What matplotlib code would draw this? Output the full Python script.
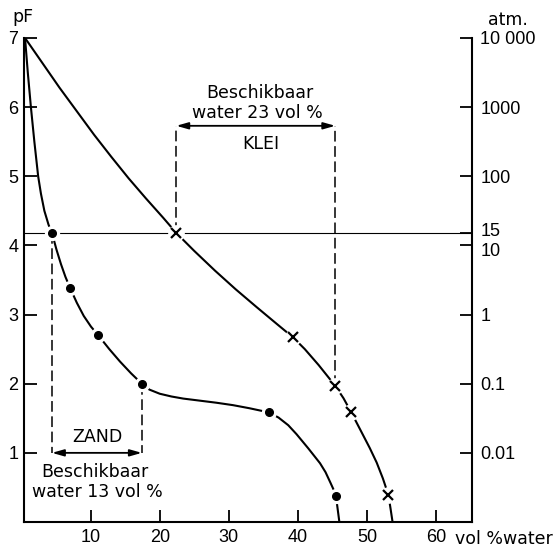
import numpy as np
import matplotlib
matplotlib.use('Agg')
import matplotlib.pyplot as plt
from matplotlib import font_manager
from matplotlib.transforms import ScaledTranslation

# pF-curves (vochtkarakteristieken) zand en klei
sand_curve_x = [0.5, 0.9, 1.35, 1.85, 2.4, 2.8, 3.3, 3.9, 4.4, 5.05, 5.7, 6.35, 7.0,
                8.0, 9.0, 10.05, 11.1, 12.7, 14.25, 15.85, 17.4, 18.5, 20.0, 21.7, 23.4,
                25.8, 28.2, 30.6, 33.0, 35.8, 37.2, 38.6, 39.8, 41.5, 43.2, 44.0, 44.7,
                45.2, 45.5, 46.0]
sand_curve_pf = [7.0, 6.5, 6.0, 5.5, 5.0, 4.75, 4.5, 4.3, 4.18, 3.94, 3.73, 3.545, 3.39,
                 3.17, 2.98, 2.825, 2.70, 2.50, 2.32, 2.15, 2.0, 1.915, 1.855, 1.815, 1.785,
                 1.755, 1.725, 1.69, 1.645, 1.585, 1.51, 1.40, 1.27, 1.065, 0.85, 0.72, 0.57,
                 0.46, 0.38, 0.0]
sand_dots_x = [4.4, 7.0, 11.1, 17.4, 35.8, 45.5]
sand_dots_pf = [4.18, 3.39, 2.70, 2.0, 1.585, 0.38]

clay_curve_x = [0.5, 3.0, 5.5, 8.0, 10.5, 13.0, 15.5, 18.0, 20.5, 22.4, 25.0, 28.0, 31.0,
                34.0, 37.0, 39.3, 41.0, 43.0, 45.4, 46.6, 47.7, 49.0, 50.4, 51.4, 52.3,
                53.1, 53.4, 53.7]
clay_curve_pf = [7.0, 6.64, 6.28, 5.94, 5.60, 5.28, 4.97, 4.68, 4.40, 4.18, 3.92, 3.635,
                 3.365, 3.11, 2.86, 2.67, 2.50, 2.27, 1.97, 1.79, 1.59, 1.34, 1.07, 0.86,
                 0.63, 0.39, 0.20, 0.0]
clay_marks_x = [22.4, 39.3, 45.4, 47.7, 53.1]
clay_marks_pf = [4.18, 2.67, 1.97, 1.59, 0.39]

# verwelkingspunt (pF 4.2) en veldcapaciteit
sand_wp, sand_fc = 4.4, 17.4      # 13 vol %
clay_wp, clay_fc = 22.4, 45.4     # 23 vol %
wilting_pf = 3 + np.log10(15)

x_ticks = [10, 20, 30, 40, 50, 60]
pf_ticks = [1, 2, 3, 4, 5, 6, 7]
atm_ticks = [10000, 1000, 100, 15, 10, 1, 0.1, 0.01]
atm_labels = ['10 000', '1000', '100', '15', '10', '1', '0.1', '0.01']

installed = {f.name for f in font_manager.fontManager.ttflist}
num_font = [f for f in ['Liberation Sans Narrow', 'Liberation Sans', 'DejaVu Sans'] if f in installed][:1]
txt_font = ['DejaVu Sans']

fig = plt.figure(figsize=(5.6, 5.49), dpi=100)
ax = fig.add_axes([24 / 560, 1 - 522 / 549, (472 - 24) / 560, (522 - 38) / 549])
ax.set_xlim(0.35, 65.2)
ax.set_ylim(0, 7)

lw = 1.5
ax.plot(sand_curve_x, sand_curve_pf, color='k', lw=lw, zorder=2)
ax.plot(clay_curve_x, clay_curve_pf, color='k', lw=lw, zorder=2)
ax.axhline(wilting_pf, color='k', lw=0.8, zorder=1)

# stippellijnen beschikbaar water
dash = (0, (7, 3))
ax.plot([sand_wp, sand_wp], [wilting_pf, 1.0], color='k', lw=1.1, ls=dash, zorder=1)
ax.plot([sand_fc, sand_fc], [2.0, 1.0], color='k', lw=1.1, ls=dash, zorder=1)
ax.plot([clay_wp, clay_wp], [wilting_pf, 5.73], color='k', lw=1.1, ls=dash, zorder=1)
ax.plot([clay_fc, clay_fc], [1.97, 5.73], color='k', lw=1.1, ls=dash, zorder=1)

arrow = dict(arrowstyle='<|-|>,head_length=0.7,head_width=0.2', color='k', lw=1.3,
             shrinkA=0, shrinkB=0, mutation_scale=10)
ax.annotate('', xy=(sand_wp, 1.0), xytext=(sand_fc, 1.0), arrowprops=arrow)
ax.annotate('', xy=(clay_wp, 5.73), xytext=(clay_fc, 5.73), arrowprops=arrow)

# witte rand rond de meetpunten
ax.plot(sand_dots_x, sand_dots_pf, 'o', color='white', ms=10, zorder=3)
ax.plot(clay_marks_x, clay_marks_pf, 'o', color='white', ms=11, zorder=3)
ax.plot(sand_dots_x, sand_dots_pf, 'o', color='k', ms=5.5, zorder=4)
ax.plot(clay_marks_x, clay_marks_pf, 'x', color='k', ms=7, mew=1.6, zorder=4)

fs = 12.5
ax.text(10.9, 1.23, 'ZAND', ha='center', va='center', fontsize=fs, family=txt_font)
ax.text(10.6, 0.73, 'Beschikbaar', ha='center', va='center', fontsize=fs, family=txt_font)
ax.text(10.9, 0.44, 'water 13 vol %', ha='center', va='center', fontsize=fs, family=txt_font)
ax.text(34.7, 5.47, 'KLEI', ha='center', va='center', fontsize=fs, family=txt_font)
ax.text(34.5, 6.20, 'Beschikbaar', ha='center', va='center', fontsize=fs, family=txt_font)
ax.text(34.1, 5.91, 'water 23 vol %', ha='center', va='center', fontsize=fs, family=txt_font)

for s in ['top', 'right']:
    ax.spines[s].set_visible(False)
for s in ['left', 'bottom']:
    ax.spines[s].set_linewidth(1.5)
ax.set_xticks(x_ticks)
ax.set_xticklabels([str(v) for v in x_ticks], family=num_font, fontsize=13)
ax.set_yticks(pf_ticks)
ax.set_yticklabels([str(v) for v in pf_ticks], family=num_font, fontsize=13)
ax.tick_params(axis='x', direction='in', length=9, width=1.3, pad=5)
ax.tick_params(axis='y', direction='in', length=9, width=1.3, pad=4)

# rechter as in atmosfeer
ax2 = ax.twinx()
ax2.set_ylim(0, 7)
for s in ['top', 'left', 'bottom']:
    ax2.spines[s].set_visible(False)
ax2.spines['right'].set_linewidth(1.5)
ax2.set_yticks(3 + np.log10(atm_ticks))
ax2.set_yticklabels(atm_labels, family=num_font, fontsize=13)
ax2.tick_params(axis='y', direction='in', length=9, width=1.3, pad=6)
for lab in ax2.get_yticklabels():
    if lab.get_text() == '15':
        lab.set_transform(lab.get_transform() + ScaledTranslation(0, 3 / 72, fig.dpi_scale_trans))
    elif lab.get_text() == '10':
        lab.set_transform(lab.get_transform() + ScaledTranslation(0, -3 / 72, fig.dpi_scale_trans))

fig.text(23 / 560, 1 - 17 / 549, 'pF', ha='center', va='center', fontsize=fs, family=txt_font)
fig.text(508 / 560, 1 - 20 / 549, 'atm.', ha='center', va='center', fontsize=fs, family=txt_font)
fig.text(455 / 560, 1 - 539 / 549, 'vol %water', ha='left', va='center', fontsize=fs, family=txt_font)

fig.savefig('out.png', dpi=100)
